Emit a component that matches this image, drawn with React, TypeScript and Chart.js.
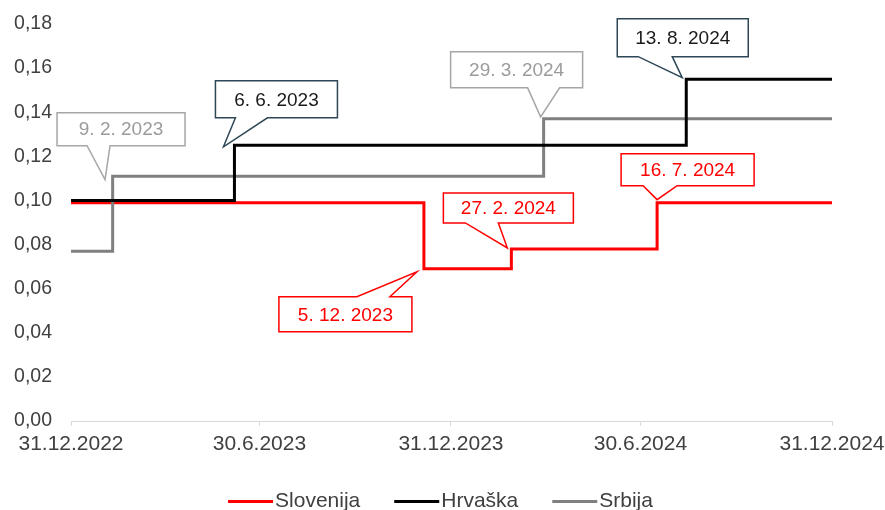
import React, { useEffect, useRef } from 'react';
import { Chart, registerables } from 'chart.js';

Chart.register(...registerables);

const FONT = '"Liberation Sans", Arial, Helvetica, sans-serif';

// ---- data ----
const axisStart = '2022-12-31';
const axisEnd = '2024-12-31';
const tickDates = ['2022-12-31', '2023-06-30', '2023-12-31', '2024-06-30', '2024-12-31'];
const tickLabels = ['31.12.2022', '30.6.2023', '31.12.2023', '30.6.2024', '31.12.2024'];

const seriesNames = ['Slovenija', 'Hrvaška', 'Srbija'];

const sloDates = ['2022-12-31', '2023-12-05', '2024-02-27', '2024-07-16', '2024-12-31'];
const sloValues = [0.099, 0.069, 0.078, 0.099, 0.099];

const hrvDates = ['2022-12-31', '2023-06-06', '2024-08-13', '2024-12-31'];
const hrvValues = [0.1, 0.125, 0.155, 0.155];

const srbDates = ['2022-12-31', '2023-02-09', '2024-03-29', '2024-12-31'];
const srbValues = [0.077, 0.111, 0.137, 0.137];

const calloutTexts = ['9. 2. 2023', '6. 6. 2023', '5. 12. 2023', '27. 2. 2024', '29. 3. 2024', '16. 7. 2024', '13. 8. 2024'];
const calloutSeries = [2, 1, 0, 0, 2, 0, 1];
const calloutPoint = [1, 1, 1, 2, 2, 3, 2];

// ---- styles / layout ----
const seriesDates = [sloDates, hrvDates, srbDates];
const seriesValues = [sloValues, hrvValues, srbValues];
const seriesColors = ['#ff0000', '#000000', '#808080'];
const seriesOrder = [2, 0, 1];
const calloutBorder = ['#ff0000', '#2e4757', '#a6a6a6'];
const calloutText = ['#ff0000', '#1a1a1a', '#9b9b9b'];

type Layout = { tip: [number, number]; box: [number, number, number, number]; base: [number, number]; edge: 'top' | 'bottom' };
const calloutLayout: Layout[] = [
  { tip: [-7.6, 3.5], box: [-48, -67, 128, 33], base: [-18, 5], edge: 'bottom' },
  { tip: [-11, 1.5], box: [-8, -66, 122, 37], base: [12, 44], edge: 'bottom' },
  { tip: [-7, 3], box: [-138, 25, 133, 35], base: [-60, -27], edge: 'top' },
  { tip: [-4, -1], box: [-64, -55, 130, 30], base: [-42, -9], edge: 'bottom' },
  { tip: [-3, -2], box: [-90, -65, 132, 36], base: [-13, 19], edge: 'bottom' },
  { tip: [0, -3], box: [-36, -46, 133, 32], base: [-14, 20], edge: 'bottom' },
  { tip: [-4, -1.5], box: [-65, -59, 131, 38], base: [-44, -10], edge: 'bottom' },
];

const toMs = (s: string) => {
  const [y, m, d] = s.split('-').map(Number);
  return Date.UTC(y, m - 1, d);
};

const calloutPlugin = {
  id: 'callouts',
  afterDatasetsDraw(chart: any) {
    const ctx = chart.ctx as CanvasRenderingContext2D;
    const xs = chart.scales.x;
    const ys = chart.scales.y;
    calloutTexts.forEach((text, i) => {
      const s = calloutSeries[i];
      const p = calloutPoint[i];
      const ax = xs.getPixelForValue(toMs(seriesDates[s][p]));
      const ay = ys.getPixelForValue(seriesValues[s][p]);
      const L = calloutLayout[i];
      const tx = ax + L.tip[0];
      const ty = ay + L.tip[1];
      const left = tx + L.box[0];
      const top = ty + L.box[1];
      const right = left + L.box[2];
      const bottom = top + L.box[3];
      const b1 = tx + L.base[0];
      const b2 = tx + L.base[1];
      ctx.save();
      ctx.beginPath();
      if (L.edge === 'bottom') {
        ctx.moveTo(left, top);
        ctx.lineTo(right, top);
        ctx.lineTo(right, bottom);
        ctx.lineTo(b2, bottom);
        ctx.lineTo(tx, ty);
        ctx.lineTo(b1, bottom);
        ctx.lineTo(left, bottom);
      } else {
        ctx.moveTo(left, top);
        ctx.lineTo(b1, top);
        ctx.lineTo(tx, ty);
        ctx.lineTo(b2, top);
        ctx.lineTo(right, top);
        ctx.lineTo(right, bottom);
        ctx.lineTo(left, bottom);
      }
      ctx.closePath();
      ctx.fillStyle = '#ffffff';
      ctx.fill();
      ctx.lineWidth = 1.5;
      ctx.lineJoin = 'miter';
      ctx.strokeStyle = calloutBorder[s];
      ctx.stroke();
      ctx.fillStyle = calloutText[s];
      ctx.font = `19px ${FONT}`;
      ctx.textAlign = 'center';
      ctx.textBaseline = 'middle';
      ctx.fillText(text, (left + right) / 2, (top + bottom) / 2 + 1);
      ctx.restore();
    });
  },
};

const legendPlugin = {
  id: 'customLegend',
  afterDraw(chart: any) {
    const ctx = chart.ctx as CanvasRenderingContext2D;
    ctx.save();
    ctx.font = `21px ${FONT}`;
    const lineW = 45;
    const gap = 2;
    const spacing = 34;
    const widths = seriesNames.map((n) => ctx.measureText(n).width);
    const total = widths.reduce((a, w) => a + lineW + gap + w, 0) + spacing * (seriesNames.length - 1);
    let x = chart.width / 2 - 2 - total / 2;
    const lineY = 501.5;
    const textY = 507;
    seriesNames.forEach((n, i) => {
      ctx.strokeStyle = seriesColors[i];
      ctx.lineWidth = 3;
      ctx.beginPath();
      ctx.moveTo(x, lineY);
      ctx.lineTo(x + lineW, lineY);
      ctx.stroke();
      ctx.fillStyle = '#404040';
      ctx.textAlign = 'left';
      ctx.textBaseline = 'alphabetic';
      ctx.fillText(n, x + lineW + gap, textY);
      x += lineW + gap + widths[i] + spacing;
    });
    ctx.restore();
  },
};

export default function App() {
  const ref = useRef<HTMLCanvasElement | null>(null);
  useEffect(() => {
    if (!ref.current) return;
    const tickValues = tickDates.map(toMs);
    const chart = new Chart(ref.current, {
      type: 'line',
      data: {
        datasets: seriesNames.map((name, i) => ({
          label: name,
          data: seriesDates[i].map((d, j) => ({ x: toMs(d), y: seriesValues[i][j] })),
          borderColor: seriesColors[i],
          backgroundColor: seriesColors[i],
          borderWidth: 3,
          stepped: 'before' as const,
          pointRadius: 0,
          pointHoverRadius: 0,
          fill: false,
          order: seriesOrder[i],
        })),
      },
      options: {
        animation: false,
        responsive: true,
        maintainAspectRatio: false,
        layout: { padding: { left: 0, right: 53, top: 24, bottom: 0 } },
        plugins: {
          legend: { display: false },
          tooltip: { enabled: false },
        },
        scales: {
          x: {
            type: 'linear',
            min: toMs(axisStart),
            max: toMs(axisEnd),
            afterBuildTicks: (scale: any) => {
              scale.ticks = tickValues.map((v) => ({ value: v }));
            },
            afterFit: (scale: any) => {
              scale.height = 89;
              scale.paddingLeft = 0;
              scale.paddingRight = 0;
            },
            ticks: {
              autoSkip: false,
              maxRotation: 0,
              padding: 6,
              color: '#404040',
              font: { family: FONT, size: 21 },
              callback: (v: any) => {
                const idx = tickValues.indexOf(Number(v));
                return idx >= 0 ? tickLabels[idx] : '';
              },
            },
            grid: {
              display: true,
              drawOnChartArea: false,
              drawTicks: true,
              tickLength: 5,
              color: '#d9d9d9',
            },
            border: { display: true, color: '#d9d9d9', width: 1 },
          },
          y: {
            min: 0,
            max: 0.18,
            afterFit: (scale: any) => {
              scale.width = 71;
              scale.paddingTop = 0;
              scale.paddingBottom = 0;
            },
            ticks: {
              stepSize: 0.02,
              padding: 19,
              color: '#404040',
              font: { family: FONT, size: 19.5 },
              callback: (v: any) => Number(v).toFixed(2).replace('.', ','),
            },
            grid: { display: false, drawTicks: false },
            border: { display: false },
          },
        },
      },
      plugins: [calloutPlugin, legendPlugin],
    });
    return () => chart.destroy();
  }, []);

  return (
    <div style={{ position: 'fixed', left: 0, top: 0, width: 885, height: 510, background: '#fff' }}>
      <canvas ref={ref} />
    </div>
  );
}
